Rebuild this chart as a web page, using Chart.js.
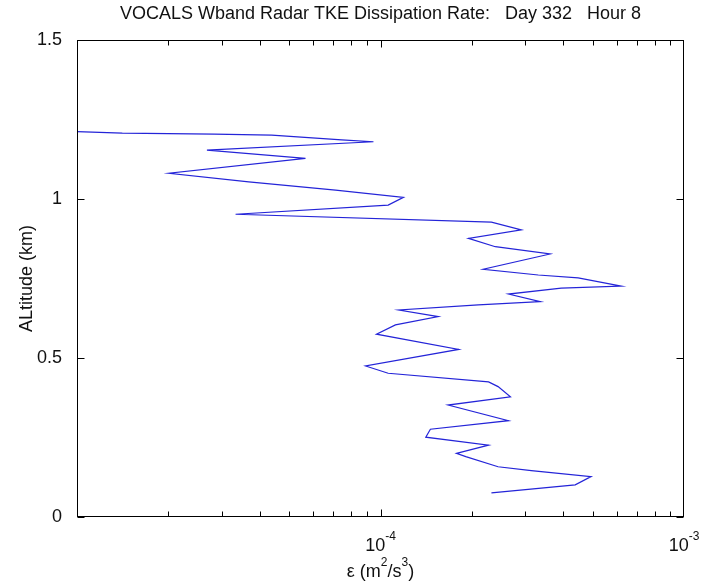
<!DOCTYPE html>
<html>
<head>
<meta charset="utf-8">
<script src="https://cdn.jsdelivr.net/npm/chart.js@4.4.0/dist/chart.umd.min.js"></script>
<style>
  html, body { margin: 0; padding: 0; background: #fff; }
</style>
</head>
<body>
<canvas id="dissChart" width="704" height="582"></canvas>
<script>
// Profile, top of the cloud layer downwards
const altitudeKm = [
    1.212, 1.207, 1.204, 1.201, 1.186, 1.180, 1.154, 1.128, 1.081, 1.054,
    1.028, 1.005, 0.981, 0.952, 0.927, 0.903, 0.876, 0.850, 0.827, 0.779,
    0.761, 0.752, 0.726, 0.720, 0.701, 0.677, 0.667, 0.651, 0.630, 0.604,
    0.575, 0.527, 0.475, 0.452, 0.425, 0.410, 0.378, 0.352, 0.303, 0.276,
    0.251, 0.226, 0.200, 0.190, 0.158, 0.146, 0.127, 0.101, 0.076
];
const epsilon = [
    1.00e-5, 1.41e-5, 2.83e-5, 4.38e-5, 7.45e-5, 9.48e-5, 2.68e-5, 5.66e-5, 2.01e-5, 3.68e-5,
    7.11e-5, 1.19e-4, 1.06e-4, 3.33e-5, 2.32e-4, 2.91e-4, 1.95e-4, 2.39e-4, 3.62e-4, 2.18e-4,
    3.31e-4, 4.48e-4, 6.21e-4, 3.94e-4, 2.64e-4, 3.36e-4, 2.10e-4, 1.15e-4, 1.55e-4, 1.12e-4,
    9.70e-5, 1.81e-4, 8.93e-5, 1.06e-4, 2.27e-4, 2.44e-4, 2.68e-4, 1.67e-4, 2.64e-4, 1.46e-4,
    1.41e-4, 2.27e-4, 1.78e-4, 1.91e-4, 2.44e-4, 3.14e-4, 4.94e-4, 4.38e-4, 2.32e-4
];

// axis labelling
const xDecades = [-5, -4, -3];          // x axis runs 1e-5 .. 1e-3
const xTickValues = [1e-4, 1e-3];
const xTickExponents = ['-4', '-3'];
const yTicks = [0, 0.5, 1, 1.5];

const FONT = "'Liberation Sans', Arial, sans-serif";
const TEXT = '#111';
Chart.defaults.font.family = FONT;
Chart.defaults.font.size = 18;
Chart.defaults.color = TEXT;

const xMin = Math.pow(10, xDecades[0]);
const xMax = Math.pow(10, xDecades[xDecades.length - 1]);
const profile = epsilon.map((e, i) => ({ x: e, y: altitudeKm[i] }));

// text with superscripts, parts = [[text, isSup], ...], centred on cx
function drawSupText(ctx, parts, cx, midY) {
    const widths = parts.map(([t, sup]) => {
        ctx.font = (sup ? 12 : 18) + 'px ' + FONT;
        return ctx.measureText(t).width;
    });
    let x = cx - widths.reduce((a, b) => a + b, 0) / 2;
    ctx.textAlign = 'left';
    ctx.textBaseline = 'middle';
    parts.forEach(([t, sup], i) => {
        ctx.font = (sup ? 12 : 18) + 'px ' + FONT;
        ctx.fillText(t, x, sup ? midY - 9 : midY);
        x += widths[i];
    });
}

// MATLAB style box with inward ticks
const matlabAxes = {
    id: 'matlabAxes',
    afterDraw(chart) {
        const { ctx, chartArea: a } = chart;
        const xs = chart.scales.x, ys = chart.scales.y;
        const L = Math.round(a.left) + 0.5, R = Math.round(a.right) - 0.5;
        const T = Math.round(a.top) + 0.5, B = Math.round(a.bottom) - 0.5;
        ctx.save();
        ctx.strokeStyle = '#000';
        ctx.lineWidth = 1;
        ctx.strokeRect(L, T, R - L, B - T);

        // log ticks on bottom and top
        xDecades.forEach(d => {
            for (let m = 1; m <= 9; m++) {
                const v = m * Math.pow(10, d);
                if (v > xMax * 1.001) break;
                const px = Math.min(R, Math.max(L, Math.round(xs.getPixelForValue(v)) + 0.5));
                const len = m === 1 ? 7 : 5;
                ctx.beginPath();
                ctx.moveTo(px, B); ctx.lineTo(px, B - len);
                ctx.moveTo(px, T); ctx.lineTo(px, T + len);
                ctx.stroke();
            }
        });
        // linear ticks on left and right
        yTicks.forEach(v => {
            const py = Math.round(ys.getPixelForValue(v)) + 0.5;
            ctx.beginPath();
            ctx.moveTo(L, py); ctx.lineTo(L + 7, py);
            ctx.moveTo(R, py); ctx.lineTo(R - 7, py);
            ctx.stroke();
        });

        ctx.fillStyle = TEXT;
        xTickValues.forEach((v, i) => {
            drawSupText(ctx, [['10', false], [xTickExponents[i], true]], xs.getPixelForValue(v), 546);
        });
        drawSupText(ctx, [['\u03b5 (m', false], ['2', true], ['/s', false], ['3', true], [')', false]],
            (a.left + a.right) / 2, 572);
        ctx.restore();
    }
};

new Chart(document.getElementById('dissChart'), {
    type: 'scatter',
    data: {
        datasets: [{
            data: profile,
            showLine: true,
            borderColor: '#2424d8',
            borderWidth: 1.2,
            pointRadius: 0,
            tension: 0
        }]
    },
    options: {
        responsive: false,
        animation: false,
        layout: { padding: { left: 0, right: 20, top: 0, bottom: 0 } },
        plugins: {
            legend: { display: false },
            tooltip: { enabled: false },
            title: {
                display: true,
                fullSize: false,
                text: 'VOCALS Wband Radar TKE Dissipation Rate:   Day 332   Hour 8',
                color: TEXT,
                font: { size: 18, weight: 'normal' },
                padding: { top: 3, bottom: 15.4 }
            }
        },
        scales: {
            x: {
                type: 'logarithmic',
                min: xMin,
                max: xMax,
                grid: { display: false },
                border: { display: false },
                ticks: { display: false },
                afterFit(s) { s.height = 65; }
            },
            y: {
                min: 0,
                max: 1.5,
                afterBuildTicks(s) { s.ticks = yTicks.map(v => ({ value: v })); },
                ticks: {
                    padding: 7,
                    color: TEXT,
                    font: { size: 18 },
                    callback: v => String(v)
                },
                grid: { display: false },
                border: { display: false },
                title: {
                    display: true,
                    text: 'ALtitude (km)',
                    color: TEXT,
                    font: { size: 18 },
                    padding: { top: 16, bottom: 0 }
                },
                afterFit(s) { s.width = 77; }
            }
        }
    },
    plugins: [matlabAxes]
});
</script>
</body>
</html>
